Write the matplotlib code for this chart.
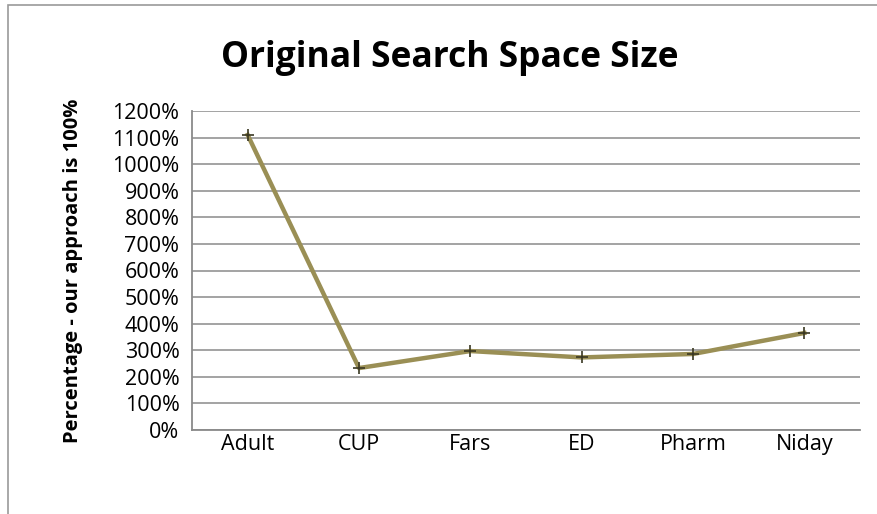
import matplotlib
matplotlib.use("Agg")
import matplotlib.pyplot as plt
from matplotlib.patches import Rectangle
from matplotlib.ticker import FuncFormatter

datasets = ["Adult", "CUP", "Fars", "ED", "Pharm", "Niday"]
search_space = [1110, 233, 297, 273, 286, 365]
y_ticks = list(range(0, 1201, 100))

plt.rcParams['font.family'] = ['Open Sans', 'DejaVu Sans']

fig = plt.figure(figsize=(8.78, 5.14), dpi=100, facecolor='white')
ax = fig.add_axes([192 / 878, 1 - 430 / 514, 668 / 878, 319 / 514])

# chart frame (left and top edges only inside the canvas)
fig.patches.append(Rectangle((8 / 878, -0.1), 1.2, 1 - 5 / 514 + 0.1,
                             transform=fig.transFigure, fill=False,
                             edgecolor='#9a9a9a', linewidth=1.2))

x = range(len(datasets))
ax.plot(x, search_space, color='#9a8f55', linewidth=3.2, zorder=3)
ax.plot(x, search_space, linestyle='none', marker='+', markersize=9,
        markeredgewidth=1.2, color='#3a3822', zorder=4)

ax.set_xlim(-0.5, len(datasets) - 0.5)
ax.set_ylim(0, 1200)
ax.set_yticks(y_ticks)
ax.yaxis.set_major_formatter(FuncFormatter(lambda v, p: '%d%%' % v))
ax.set_xticks(list(x))
ax.set_xticklabels(datasets)

ax.grid(axis='y', color='#8a8a8a', linewidth=1.1)
ax.set_axisbelow(True)
for side in ['top', 'right']:
    ax.spines[side].set_visible(False)
for side in ['left', 'bottom']:
    ax.spines[side].set_color('#8a8a8a')
    ax.spines[side].set_linewidth(1.3)
ax.tick_params(length=0, labelsize=15.5, colors='black')
ax.tick_params(axis='x', pad=3)
ax.tick_params(axis='y', pad=9)

ax.set_ylabel('Percentage - our approach is 100%', fontsize=14.5,
              fontweight='bold', labelpad=21)
fig.text(450 / 878, 1 - 58 / 514, 'Original Search Space Size',
         ha='center', va='center', fontsize=25.5, fontweight='bold')

fig.savefig('out.png', dpi=100, facecolor='white')
